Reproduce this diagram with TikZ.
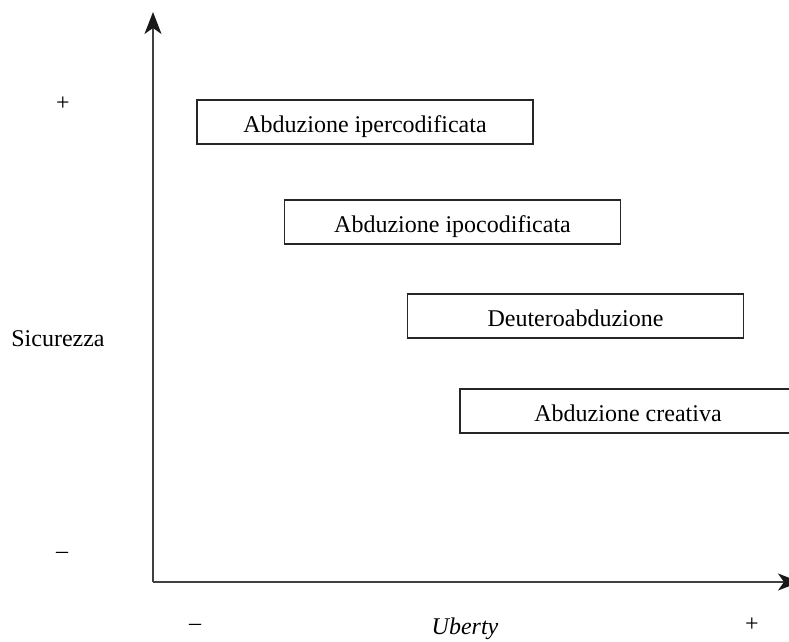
\documentclass[tikz,border=0pt]{standalone}
\usepackage{fontspec}
\setmainfont{Liberation Serif}
\usetikzlibrary{arrows.meta}
\begin{document}
\begin{tikzpicture}[x=1pt,y=-1pt,
  lbl/.style={inner sep=0pt, font=\fontsize{24}{28}\selectfont},
  abox/.style={draw=black!85, line width=1.1pt, minimum width=336pt, minimum height=44pt, inner sep=0pt, text height=20pt, text depth=0pt, font=\fontsize{24}{28}\selectfont},
  axis/.style={draw=black!75, line width=1.4pt, -{Stealth[length=22pt,width=17pt,inset=6pt,color=black!90]}}]
\useasboundingbox (0,0) rectangle (789,641);
\clip (0,0) rectangle (789,641);
\coordinate (O) at (153,582);
\coordinate (Ytop) at (153,12);
\coordinate (Xend) at (800,582);
\draw[axis] (O) -- (Ytop);
\draw[axis] (O) -- (Xend);
\node[abox] (b1) at (365,122) {Abduzione ipercodificata};
\node[abox] (b2) at (452.5,222) {Abduzione ipocodificata};
\node[abox] (b3) at (575.5,316) {Deuteroabduzione};
\node[abox] (b4) at (628,411) {Abduzione creativa};
\node[lbl] (yplus) at (63,104) {+};
\node[lbl] (yminus) at (62,555) {–};
\node[lbl] (ylab) at (58,339) {Sicurezza};
\node[lbl] (xminus) at (195,627) {–};
\node[lbl] (xlab) at (465,629) {\itshape Uberty};
\node[lbl] (xplus) at (752,625) {+};
\end{tikzpicture}
\end{document}
